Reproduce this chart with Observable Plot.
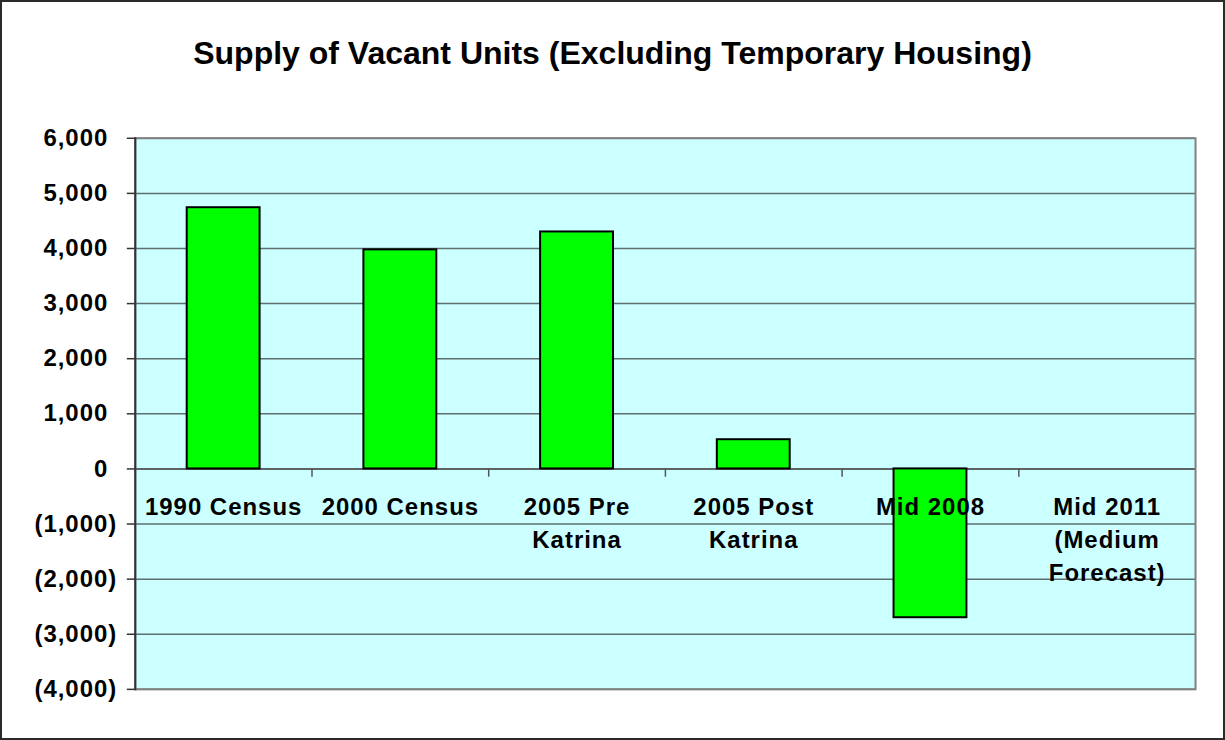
<!DOCTYPE html>
<html>
<head>
<meta charset="utf-8">
<script src="https://cdn.jsdelivr.net/npm/d3@7"></script>
<script src="https://cdn.jsdelivr.net/npm/@observablehq/plot@0.6"></script>
<style>
  html, body { margin: 0; padding: 0; background: #fff; }
  #wrap { position: relative; width: 1225px; height: 740px; box-sizing: border-box; border: 2px solid #2a2a2a; overflow: hidden; background: #fff; }
  #title { position: absolute; left: 0; top: 35px; width: 1221px; text-align: center; font-family: "Liberation Sans", Arial, sans-serif; font-weight: bold; font-size: 32px; line-height: 32px; color: #000; }
  #chart { position: absolute; left: -2px; top: -2px; }
</style>
</head>
<body>
<div id="wrap">
  <div id="title">Supply of Vacant Units (Excluding Temporary Housing)</div>
  <div id="chart"></div>
</div>
<script>
const categories = ["1990 Census", "2000 Census", "2005 Pre\nKatrina", "2005 Post\nKatrina", "Mid 2008", "Mid 2011\n(Medium\nForecast)"];
const values = [4740, 3975, 4300, 530, -2700, null];
const yTicks = [-4000, -3000, -2000, -1000, 0, 1000, 2000, 3000, 4000, 5000, 6000];

const data = categories.map((c, i) => ({cat: c, value: values[i]}));
const comma = d3.format(",");
const fmt = d => d < 0 ? `(${comma(-d)})` : comma(d);

const W = 1225, H = 740, ML = 135, MR = 28, MT = 138, MB = 50;
const step = (W - ML - MR) / categories.length;

const chart = Plot.plot({
  width: W,
  height: H,
  marginLeft: ML,
  marginRight: MR,
  marginTop: MT,
  marginBottom: MB,
  style: {background: "transparent", fontFamily: "'Liberation Sans', Arial, sans-serif", letterSpacing: "1px", color: "#000", overflow: "visible"},
  x: {domain: categories, paddingInner: 0.59, paddingOuter: 0.295, axis: null},
  y: {domain: [-4000, 6000], ticks: yTicks, axis: null, label: null},
  marks: [
    Plot.frame({fill: "#CCFFFF", stroke: null}),
    Plot.gridY(yTicks, {stroke: "#5f6f6f", strokeOpacity: 1, strokeWidth: 1.5}),
    Plot.ruleY([0], {stroke: "#555", strokeWidth: 1.5}),
    Plot.ruleX(categories.slice(1), {x: d => d, y1: 0, y2: -150, dx: -step / 2, stroke: "#555", strokeWidth: 1.5}),
    Plot.barY(data.filter(d => d.value != null), {x: "cat", y: "value", fill: "#00FF00", stroke: "#000", strokeWidth: 2}),
    Plot.text(categories, {x: d => d, y: 0, text: d => d, lineAnchor: "top", dy: 23, fontSize: 24, fontWeight: "bold", lineHeight: 1.38, fill: "#000"}),
    Plot.frame({stroke: "#808080", strokeWidth: 2}),
    Plot.frame({anchor: "left", stroke: "#333", strokeWidth: 2}),
    Plot.axisY(yTicks.filter(d => d >= 0), {label: null, tickFormat: fmt, tickSize: 8, tickPadding: 19, fontSize: 24, fontWeight: "bold", stroke: "#333", strokeWidth: 1.5, fill: "#000"}),
    Plot.axisY(yTicks.filter(d => d < 0), {label: null, tickFormat: fmt, tickSize: 8, tickPadding: 10, fontSize: 24, fontWeight: "bold", stroke: "#333", strokeWidth: 1.5, fill: "#000"})
  ]
});
document.getElementById("chart").appendChild(chart);
</script>
</body>
</html>
